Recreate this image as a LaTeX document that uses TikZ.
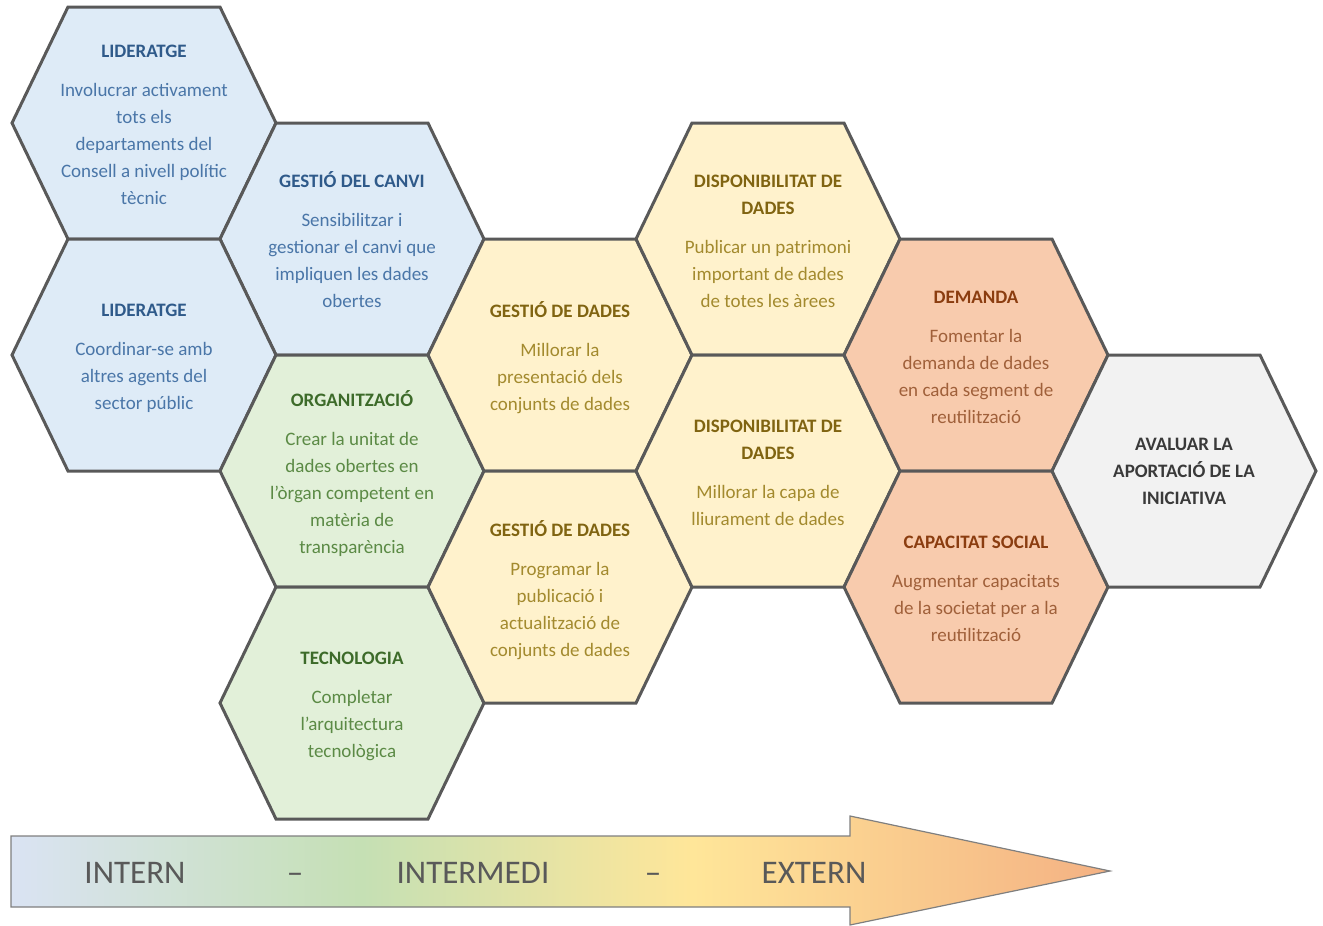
\documentclass[tikz,border=0pt]{standalone}
\usepackage{fontspec}
\setmainfont{Carlito}
\usetikzlibrary{backgrounds}

\definecolor{hexline}{HTML}{595959}
\definecolor{hexblue}{HTML}{DEEBF7}
\definecolor{hexgreen}{HTML}{E2F0D9}
\definecolor{hexyellow}{HTML}{FFF2CC}
\definecolor{hexorange}{HTML}{F8CBAD}
\definecolor{hexgrey}{HTML}{F2F2F2}
\definecolor{titleblue}{HTML}{2F5A8A}
\definecolor{bodyblue}{HTML}{4A76A8}
\definecolor{titlegreen}{HTML}{3D6B2A}
\definecolor{bodygreen}{HTML}{5B8A45}
\definecolor{titleyellow}{HTML}{806411}
\definecolor{bodyyellow}{HTML}{A38A2E}
\definecolor{titleorange}{HTML}{8B3D10}
\definecolor{bodyorange}{HTML}{A0603A}
\definecolor{titlegrey}{HTML}{3A3A3A}
\definecolor{bandgrey}{HTML}{595959}
\definecolor{bandline}{HTML}{7F7F7F}
\definecolor{fadeblue}{HTML}{DAE3F3}
\definecolor{fadegreen}{HTML}{C5E0B4}
\definecolor{fadeyellow}{HTML}{FFE699}
\definecolor{fadeorange}{HTML}{F4B183}

\pgfdeclarehorizontalshading{flowfade}{100bp}{color(0bp)=(fadeblue); color(25bp)=(fadeblue); color(41bp)=(fadegreen); color(56bp)=(fadeyellow); color(75bp)=(fadeorange); color(100bp)=(fadeorange)}

\newcommand{\ctitle}[2]{\textcolor{#1}{\textbf{#2}}}

\tikzset{
  hexcell/.pic={\path[pic actions] (-76,-116) -- (76,-116) -- (132,0) -- (76,116) -- (-76,116) -- (-132,0) -- cycle;},
  cell/.style={draw=hexline, line width=3pt, line join=miter},
  bluecell/.style={cell, fill=hexblue},
  greencell/.style={cell, fill=hexgreen},
  yellowcell/.style={cell, fill=hexyellow},
  orangecell/.style={cell, fill=hexorange},
  greycell/.style={cell, fill=hexgrey},
  celltext/.style={align=center, inner sep=0pt, font=\fontsize{19}{27}\selectfont},
  bandtext/.style={anchor=base, inner sep=0pt, font=\fontsize{33}{36}\selectfont, text=bandgrey},
}

\begin{document}
\begin{tikzpicture}[x=1pt, y=-1pt]
\useasboundingbox (0,0) rectangle (1323,926);

\path (144,125) node[celltext, text=bodyblue] (lid1) {\ctitle{titleblue}{LIDERATGE}\\[12pt]Involucrar activament\\tots els\\departaments del\\Consell a nivell polític\\tècnic}
(352,240) node[celltext, text=bodyblue] (canvi) {\ctitle{titleblue}{GESTIÓ DEL CANVI}\\[12pt]Sensibilitzar i\\gestionar el canvi que\\impliquen les dades\\obertes}
(144,358) node[celltext, text=bodyblue] (lid2) {\ctitle{titleblue}{LIDERATGE}\\[12pt]Coordinar-se amb\\altres agents del\\sector públic}
(352,474) node[celltext, text=bodygreen] (org) {\ctitle{titlegreen}{ORGANITZACIÓ}\\[12pt]Crear la unitat de\\dades obertes en\\l’òrgan competent en\\matèria de\\transparència}
(352,706) node[celltext, text=bodygreen] (tec) {\ctitle{titlegreen}{TECNOLOGIA}\\[12pt]Completar\\l’arquitectura\\tecnològica}
(560,358) node[celltext, text=bodyyellow] (gest1) {\ctitle{titleyellow}{GESTIÓ DE DADES}\\[12pt]Millorar la\\presentació dels\\conjunts de dades}
(560,590) node[celltext, text=bodyyellow] (gest2) {\ctitle{titleyellow}{GESTIÓ DE DADES}\\[12pt]Programar la\\publicació i\\actualització de\\conjunts de dades}
(768,241) node[celltext, text=bodyyellow] (disp1) {\ctitle{titleyellow}{DISPONIBILITAT DE}\\\ctitle{titleyellow}{DADES}\\[12pt]Publicar un patrimoni\\important de dades\\de totes les àrees}
(768,473) node[celltext, text=bodyyellow] (disp2) {\ctitle{titleyellow}{DISPONIBILITAT DE}\\\ctitle{titleyellow}{DADES}\\[12pt]Millorar la capa de\\lliurament de dades}
(976,357) node[celltext, text=bodyorange] (dem) {\ctitle{titleorange}{DEMANDA}\\[12pt]Fomentar la\\demanda de dades\\en cada segment de\\reutilització}
(976,589) node[celltext, text=bodyorange] (cap) {\ctitle{titleorange}{CAPACITAT SOCIAL}\\[12pt]Augmentar capacitats\\de la societat per a la\\reutilització}
(1184,471) node[celltext, text=titlegrey, font=\fontsize{19}{27}\selectfont\bfseries] (aval) {AVALUAR LA\\APORTACIÓ DE LA\\INICIATIVA};

\begin{scope}[on background layer]
\pic[bluecell] at (144,123) {hexcell};
\pic[bluecell] at (352,239) {hexcell};
\pic[bluecell] at (144,355) {hexcell};
\pic[greencell] at (352,471) {hexcell};
\pic[greencell] at (352,703) {hexcell};
\pic[yellowcell] at (560,355) {hexcell};
\pic[yellowcell] at (560,587) {hexcell};
\pic[yellowcell] at (768,239) {hexcell};
\pic[yellowcell] at (768,471) {hexcell};
\pic[orangecell] at (976,355) {hexcell};
\pic[orangecell] at (976,587) {hexcell};
\pic[greycell] at (1184,471) {hexcell};
\end{scope}

% band arrow
\shadedraw[shading=flowfade, draw=bandline, line width=1.2pt, line join=miter] (11,836) -- (850,836) -- (850,816) -- (1110,871) -- (850,925) -- (850,907) -- (11,907) -- cycle;

\path (135,883) node[bandtext] (intern) {INTERN}
(295,883) node[bandtext] (dash1) {–}
(473,883) node[bandtext] (intermedi) {INTERMEDI}
(653,883) node[bandtext] (dash2) {–}
(814,883) node[bandtext] (extern) {EXTERN};
\end{tikzpicture}
\end{document}
